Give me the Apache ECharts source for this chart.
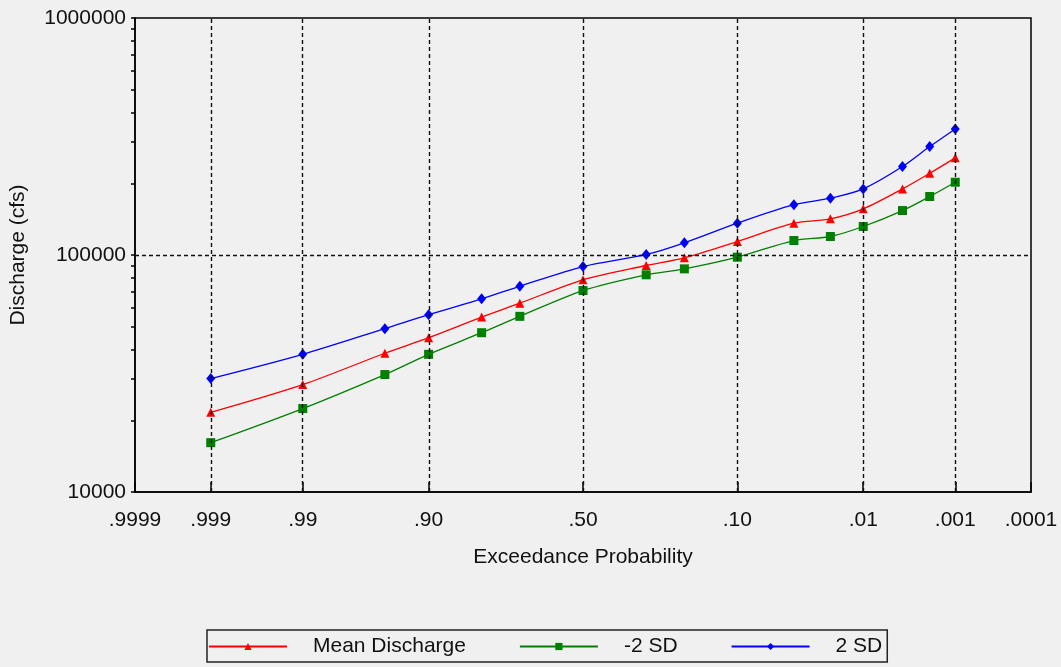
<!DOCTYPE html>
<html>
<head>
<meta charset="utf-8">
<script src="https://cdn.jsdelivr.net/npm/echarts@6/dist/echarts.min.js"></script>
<style>
html,body{margin:0;padding:0;background:#f0f0f0;}
#chart{width:1061px;height:667px;}
</style>
</head>
<body>
<div id="chart"></div>
<script>
// ---- data ----
const probs = [0.999, 0.99, 0.95, 0.90, 0.80, 0.70, 0.50, 0.30, 0.20, 0.10, 0.04, 0.02, 0.01, 0.004, 0.002, 0.001];
const meanDischarge = [21700, 28400, 38500, 44800, 54700, 62600, 78600, 90300, 97300, 114000, 136200, 142100, 156600, 190100, 221200, 257000];
const minus2SD = [16150, 22500, 31300, 38100, 47000, 55100, 70800, 82500, 87400, 97900, 115100, 119700, 131900, 154000, 176500, 202800];
const plus2SD = [30100, 38100, 48900, 56000, 65300, 73800, 89400, 100500, 112600, 136200, 163000, 173600, 190100, 236100, 286700, 340400];
const tickProbs = [0.9999, 0.999, 0.99, 0.90, 0.50, 0.10, 0.01, 0.001, 0.0001];
const tickLabels = ['.9999', '.999', '.99', '.90', '.50', '.10', '.01', '.001', '.0001'];
const gridProbs = [0.999, 0.99, 0.90, 0.50, 0.10, 0.01, 0.001];
const yMinorTicks = [10000,20000,30000,40000,50000,60000,70000,80000,90000,100000,200000,300000,400000,500000,600000,700000,800000,900000,1000000];

// inverse standard normal CDF (Acklam)
function invNorm(p) {
  const a = [-3.969683028665376e+01, 2.209460984245205e+02, -2.759285104469687e+02, 1.383577518672690e+02, -3.066479806614716e+01, 2.506628277459239e+00];
  const b = [-5.447609879822406e+01, 1.615858368580409e+02, -1.556989798598866e+02, 6.680131188771972e+01, -1.328068155288572e+01];
  const c = [-7.784894002430293e-03, -3.223964580411365e-01, -2.400758277161838e+00, -2.549732539343734e+00, 4.374664141464968e+00, 2.938163982698783e+00];
  const d = [7.784695709041462e-03, 3.224671290700398e-01, 2.445134137142996e+00, 3.754408661907416e+00];
  const pl = 0.02425, ph = 1 - pl;
  let q, r;
  if (p < pl) {
    q = Math.sqrt(-2 * Math.log(p));
    return (((((c[0]*q+c[1])*q+c[2])*q+c[3])*q+c[4])*q+c[5]) / ((((d[0]*q+d[1])*q+d[2])*q+d[3])*q+1);
  } else if (p <= ph) {
    q = p - 0.5; r = q * q;
    return (((((a[0]*r+a[1])*r+a[2])*r+a[3])*r+a[4])*r+a[5])*q / (((((b[0]*r+b[1])*r+b[2])*r+b[3])*r+b[4])*r+1);
  } else {
    q = Math.sqrt(-2 * Math.log(1 - p));
    return -(((((c[0]*q+c[1])*q+c[2])*q+c[3])*q+c[4])*q+c[5]) / ((((d[0]*q+d[1])*q+d[2])*q+d[3])*q+1);
  }
}
// exceedance probability -> position on normal probability scale
const zx = p => invNorm(1 - p);
const tickZ = tickProbs.map(zx);
const toData = vals => probs.map((p, i) => [zx(p), vals[i]]);

const FONT = 'Liberation Sans';
const FS = 21;
const chart = echarts.init(document.getElementById('chart'), null, {renderer: 'canvas'});
chart.setOption({
  backgroundColor: '#f0f0f0',
  animation: false,
  textStyle: {fontFamily: FONT},
  grid: {left: 135, right: 30, top: 18, bottom: 175, show: true, borderColor: '#000', borderWidth: 1.5, backgroundColor: 'transparent'},
  legend: {
    left: 207, top: 630,
    itemWidth: 78, itemHeight: 9, itemGap: 53,
    borderColor: '#222', borderWidth: 1.5,
    padding: [6, 5, 5, 1],
    textStyle: {fontSize: FS, color: '#111', fontFamily: FONT, padding: [0, 0, 0, 21]},
    data: ['Mean Discharge', '-2 SD', '2 SD']
  },
  xAxis: {
    type: 'value',
    min: tickZ[0], max: tickZ[tickZ.length - 1],
    name: 'Exceedance Probability', nameLocation: 'middle', nameGap: 55,
    nameTextStyle: {fontSize: FS, color: '#111', fontFamily: FONT},
    axisLine: {show: true, onZero: false, lineStyle: {color: '#000', width: 1.5}},
    axisTick: {show: true, inside: true, length: 10, customValues: tickZ, lineStyle: {color: '#000', width: 1.5}},
    axisLabel: {
      show: true, margin: 18, fontSize: FS, color: '#111', fontFamily: FONT,
      customValues: tickZ,
      formatter: v => {
        let bi = 0, bd = Infinity;
        tickZ.forEach((z, i) => { const dd = Math.abs(z - v); if (dd < bd) { bd = dd; bi = i; } });
        return tickLabels[bi];
      }
    },
    splitLine: {show: false}
  },
  yAxis: [{
    type: 'log', logBase: 10, min: 10000, max: 1000000,
    name: 'Discharge (cfs)', nameLocation: 'middle', nameGap: 106,
    nameTextStyle: {fontSize: FS, color: '#111', fontFamily: FONT},
    axisLine: {show: true, onZero: false, lineStyle: {color: '#000', width: 1.5}},
    axisTick: {show: false},
    axisLabel: {fontSize: FS, color: '#111', fontFamily: FONT, margin: 9, formatter: v => String(Math.round(v))},
    splitLine: {show: false}
  }, {
    type: 'value', min: 4, max: 6, position: 'left',
    axisLine: {show: false, onZero: false},
    axisLabel: {show: false},
    splitLine: {show: false},
    axisTick: {show: true, length: 4, customValues: yMinorTicks.map(v => Math.log10(v)), lineStyle: {color: '#000', width: 1.5}}
  }],
  series: [{
    name: 'Mean Discharge', type: 'line', data: toData(meanDischarge), smooth: 0.3,
    symbol: 'triangle', symbolSize: 9,
    itemStyle: {color: '#ff0000'}, lineStyle: {color: '#ff0000', width: 1.3},
    markLine: {
      silent: true, symbol: ['none', 'none'], label: {show: false},
      lineStyle: {type: [4, 3], color: '#111', width: 1.4},
      emphasis: {disabled: true},
      data: gridProbs.map(p => ({xAxis: zx(p)})).concat([{yAxis: 100000}])
    },
    z: 3
  }, {
    name: '-2 SD', type: 'line', data: toData(minus2SD), smooth: 0.3,
    symbol: 'rect', symbolSize: 9,
    itemStyle: {color: '#008000'}, lineStyle: {color: '#008000', width: 1.3}, z: 3
  }, {
    name: '2 SD', type: 'line', data: toData(plus2SD), smooth: 0.3,
    symbol: 'diamond', symbolSize: [9, 11],
    itemStyle: {color: '#0000ff'}, lineStyle: {color: '#0000ff', width: 1.3}, z: 3
  }]
});
</script>
</body>
</html>
